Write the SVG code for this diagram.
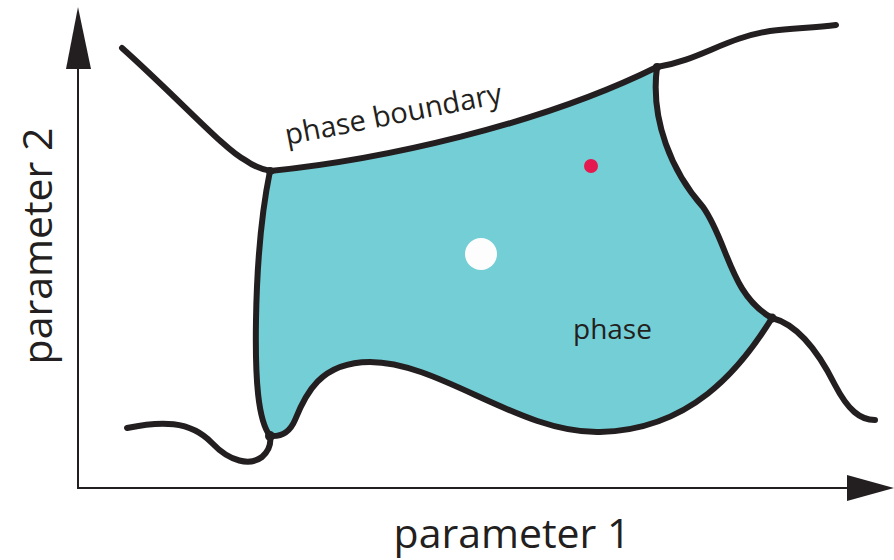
<svg xmlns="http://www.w3.org/2000/svg" width="894" height="560" viewBox="0 0 894 560">
<style>
.curve{fill:none;stroke:#231f20;stroke-width:6;stroke-linecap:round;stroke-linejoin:round}
.axis{fill:none;stroke:#231f20;stroke-width:2}
.head{fill:#231f20}
.lbl{font-family:"Open Sans","Noto Sans",sans-serif;fill:#231f20}
</style>
<rect width="894" height="560" fill="#ffffff"/>
<g id="axes">
<line class="axis" x1="78" y1="66" x2="78" y2="489"/>
<line class="axis" x1="77" y1="488" x2="850" y2="488"/>
<polygon class="head" points="78,7 91,69 66,69"/>
<polygon class="head" points="847,475 894,488 847,501"/>
</g>
<g id="phase">
<path d="M270,171 C380,160 540,125 657,67 C650,120 672,172 703,207 C728,242 730,295 772,318 C740,370 690,430 600,432 C520,434 440,362 370,362 C320,362 305,395 295,420 C290,432 282,437 270,436 C258,420 255,380 256,320 C257,260 262,210 270,171 Z" fill="#74ced6" stroke="#231f20" stroke-width="6" stroke-linejoin="round"/>
<circle cx="481" cy="254" r="16" fill="#fdfdfd"/>
<circle cx="591" cy="166" r="7" fill="#e5194f"/>
<text class="lbl" x="573" y="339" font-size="28">phase</text>
</g>
<g id="connectors">
<path class="curve" d="M122,48 C180,100 225,150 245,160 C255,167 262,170 272,171"/>
<path class="curve" d="M657,67 C700,60 725,38 770,31 C795,28 815,28 836,25"/>
<path class="curve" d="M772,318 C800,325 820,355 835,385 C848,410 860,420 875,420"/>
<path class="curve" d="M127,428 C160,421 190,420 212,443 C230,462 250,466 262,457 C270,450 271,442 270,436"/>
<circle cx="270" cy="171" r="4" fill="#231f20"/>
<circle cx="657" cy="67" r="4" fill="#231f20"/>
<circle cx="772" cy="318" r="4.5" fill="#231f20"/>
<circle cx="270" cy="436" r="5" fill="#231f20"/>
</g>
<g id="labels">
<text class="lbl" font-size="29" transform="translate(287,145) rotate(-11)">phase boundary</text>
<text class="lbl" x="512" y="548" font-size="41" text-anchor="middle">parameter 1</text>
<text class="lbl" font-size="41" text-anchor="middle" transform="translate(52,246) rotate(-90)">parameter 2</text>
</g>
</svg>
